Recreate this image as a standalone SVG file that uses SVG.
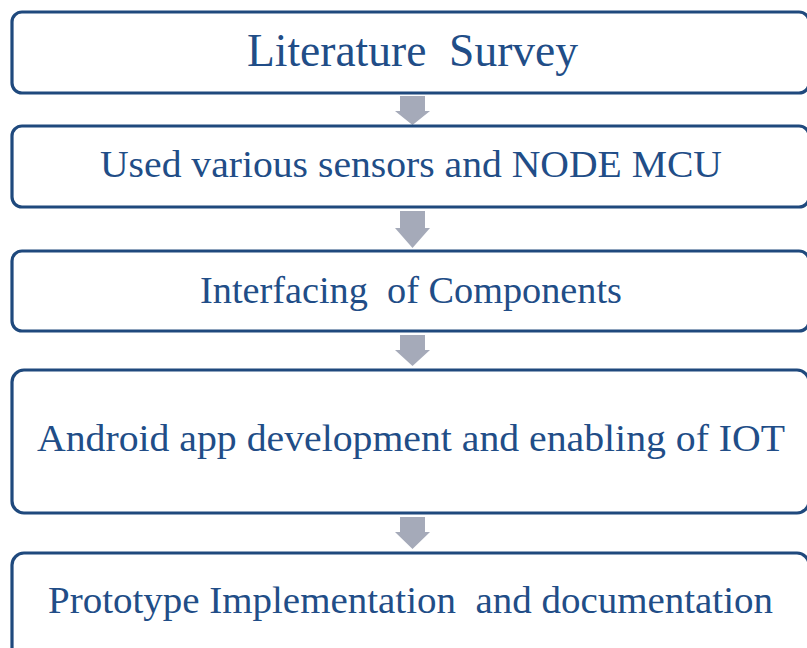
<svg xmlns="http://www.w3.org/2000/svg" width="807" height="648" viewBox="0 0 807 648">
<defs>
<style>
.box{fill:#ffffff;stroke:#1F497D;stroke-width:3.2}
.t{font-family:"Liberation Serif","Times New Roman",serif;fill:#214D87;text-anchor:middle}
.arr{fill:#A5AAB9}
</style>
</defs>
<rect width="807" height="648" fill="#ffffff"/>
<g id="connectors">
<polygon class="arr" points="400,96 425,96 425,111 430,111 412.5,125 395,111 400,111"/>
<polygon class="arr" points="400,211 425,211 425,228 430,228 412.5,248 395,228 400,228"/>
<polygon class="arr" points="400,335 425,335 425,350 430,350 412.5,366 395,350 400,350"/>
<polygon class="arr" points="400,517 425,517 425,532 430,532 412.5,549 395,532 400,532"/>
</g>
<g id="n1">
<rect class="box" x="12" y="12" width="797" height="81" rx="10"/>
<text class="t" x="412.5" y="66" font-size="46" textLength="331" lengthAdjust="spacingAndGlyphs" xml:space="preserve">Literature  Survey</text>
</g>
<g id="n2">
<rect class="box" x="12" y="126" width="797" height="81" rx="10"/>
<text class="t" x="411" y="177" font-size="37" textLength="622" lengthAdjust="spacingAndGlyphs">Used various sensors and NODE MCU</text>
</g>
<g id="n3">
<rect class="box" x="12" y="251" width="797" height="80" rx="10"/>
<text class="t" x="411" y="303" font-size="37" textLength="422" lengthAdjust="spacingAndGlyphs" xml:space="preserve">Interfacing  of Components</text>
</g>
<g id="n4">
<rect class="box" x="12" y="370" width="797" height="143" rx="12"/>
<text class="t" x="411" y="451" font-size="38" textLength="748" lengthAdjust="spacingAndGlyphs">Android app development and enabling of IOT</text>
</g>
<g id="n5">
<rect class="box" x="12" y="553" width="797" height="110" rx="12"/>
<text class="t" x="410.5" y="613" font-size="37" textLength="725" lengthAdjust="spacingAndGlyphs" xml:space="preserve">Prototype Implementation  and documentation</text>
</g>
</svg>
